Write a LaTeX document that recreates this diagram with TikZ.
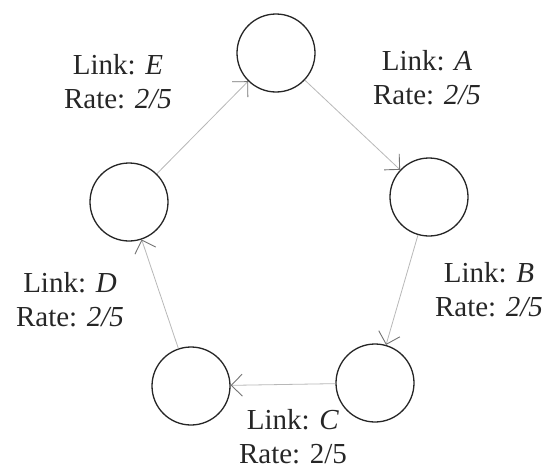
\documentclass[tikz,border=0pt]{standalone}
\usepackage{fontspec}
\setmainfont{Liberation Serif}
\usetikzlibrary{arrows.meta}
\begin{document}
\begin{tikzpicture}[x=1pt,y=-1pt,
  state/.style={circle,draw=black!85,line width=1.3pt,minimum size=78pt,inner sep=0pt},
  link/.style={draw=black!28,line width=0.8pt,-{Straight Barb[length=11pt,width=22pt,line width=0.9pt,color=black!55]}},
  lab/.style={font=\fontsize{29}{34}\selectfont,align=center,text=black!85,inner sep=0pt}]
\useasboundingbox (0,0) rectangle (544,471);
\node[state] (t) at (276,53) {};
\node[state] (r) at (429,197) {};
\node[state] (br) at (375,383) {};
\node[state] (bl) at (191,386) {};
\node[state] (l) at (129,202) {};
\draw[link] (t) -- (r);
\draw[link] (r) -- (br);
\draw[link] (br) -- (bl);
\draw[link] (bl) -- (l);
\draw[link] (l) -- (t);
\node[lab] (la) at (427,78) {Link: \textit{A}\\Rate: \textit{2/5}};
\node[lab] (lb) at (489,290) {Link: \textit{B}\\Rate: \textit{2/5}};
\node[lab] (lc) at (293,437) {Link: \textit{C}\\Rate: 2/5};
\node[lab] (ld) at (70,300) {Link: \textit{D}\\Rate: \textit{2/5}};
\node[lab] (le) at (118,82) {Link: \textit{E}\\Rate: \textit{2/5}};
\end{tikzpicture}
\end{document}
